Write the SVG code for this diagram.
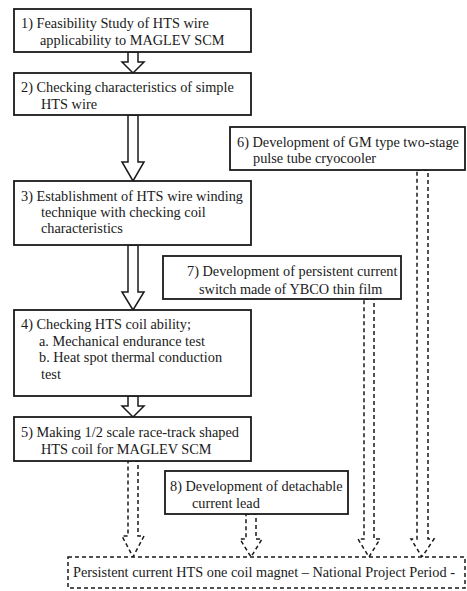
<svg xmlns="http://www.w3.org/2000/svg" width="467" height="591" viewBox="0 0 467 591">
<style>
.box{fill:#fff;stroke:#1a1a1a;stroke-width:1.8}
.dbox{fill:#fff;stroke:#1a1a1a;stroke-width:1.5;stroke-dasharray:4 3}
.arr{fill:#fff;stroke:#1a1a1a;stroke-width:1.5;stroke-linejoin:miter}
.darr{fill:#fff;stroke:#1a1a1a;stroke-width:1.5;stroke-dasharray:4 3}
.t{font-family:'Liberation Serif','Times New Roman',Times,serif;font-size:14.3px;fill:#1a1a1a}
</style>
<rect width="467" height="591" fill="#fff"/>
<g id="connectors">
<polygon class="arr" points="128,52 138,52 138,62 144,62 133,73 122,62 128,62"/>
<polygon class="arr" points="128,115 138,115 138,162 144,162 133,181 122,162 128,162"/>
<polygon class="arr" points="128,245 138,245 138,292 144,292 133,310 122,292 128,292"/>
<polygon class="arr" points="128,396 138,396 138,406 144,406 133,417 122,406 128,406"/>
<polygon class="darr" points="128,461 138,461 138,536 144,536 133,557 122,536 128,536"/>
<polygon class="darr" points="246,514 256,514 256,539 262,539 251,557 240,539 246,539"/>
<polygon class="darr" points="364,299 374,299 374,539 380,539 369,557 358,539 364,539"/>
<polygon class="darr" points="417,170 428,170 428,539 434,539 422,557 411,539 417,539"/>
</g>
<g class="t">
<g id="n1"><rect class="box" x="14" y="9" width="237" height="43"/>
<text x="21" y="28">1) Feasibility Study of HTS wire</text><text x="40" y="45">applicability to MAGLEV SCM</text></g>
<g id="n2"><rect class="box" x="14" y="73" width="237" height="42"/>
<text x="21" y="92">2) Checking characteristics of simple</text><text x="41" y="109">HTS wire</text></g>
<g id="n3"><rect class="box" x="14" y="181" width="237" height="64"/>
<text x="21" y="201">3) Establishment of HTS wire winding</text><text x="41" y="217">technique with checking coil</text><text x="41" y="233">characteristics</text></g>
<g id="n4"><rect class="box" x="14" y="310" width="237" height="86"/>
<text x="21" y="329">4) Checking HTS coil ability;</text><text x="39" y="346">a. Mechanical endurance test</text><text x="39" y="362">b. Heat spot thermal conduction</text><text x="41" y="379">test</text></g>
<g id="n5"><rect class="box" x="14" y="417" width="237" height="44"/>
<text x="21" y="437">5) Making 1/2 scale race-track shaped</text><text x="41" y="454">HTS coil for MAGLEV SCM</text></g>
<g id="n6"><rect class="box" x="230" y="127" width="235" height="43"/>
<text x="237" y="147">6) Development of GM type two-stage</text><text x="253" y="163">pulse tube cryocooler</text></g>
<g id="n7"><rect class="box" x="163" y="256" width="238" height="43"/>
<text x="187" y="276">7) Development of persistent current</text><text x="199" y="294">switch made of YBCO thin film</text></g>
<g id="n8"><rect class="box" x="165" y="471" width="183" height="43"/>
<text x="170" y="491">8) Development of detachable</text><text x="192" y="508">current lead</text></g>
<g id="n9"><rect class="dbox" x="68" y="557" width="397" height="31"/>
<text x="73" y="577">Persistent current HTS one coil magnet – National Project Period -</text></g>
</g>
</svg>
